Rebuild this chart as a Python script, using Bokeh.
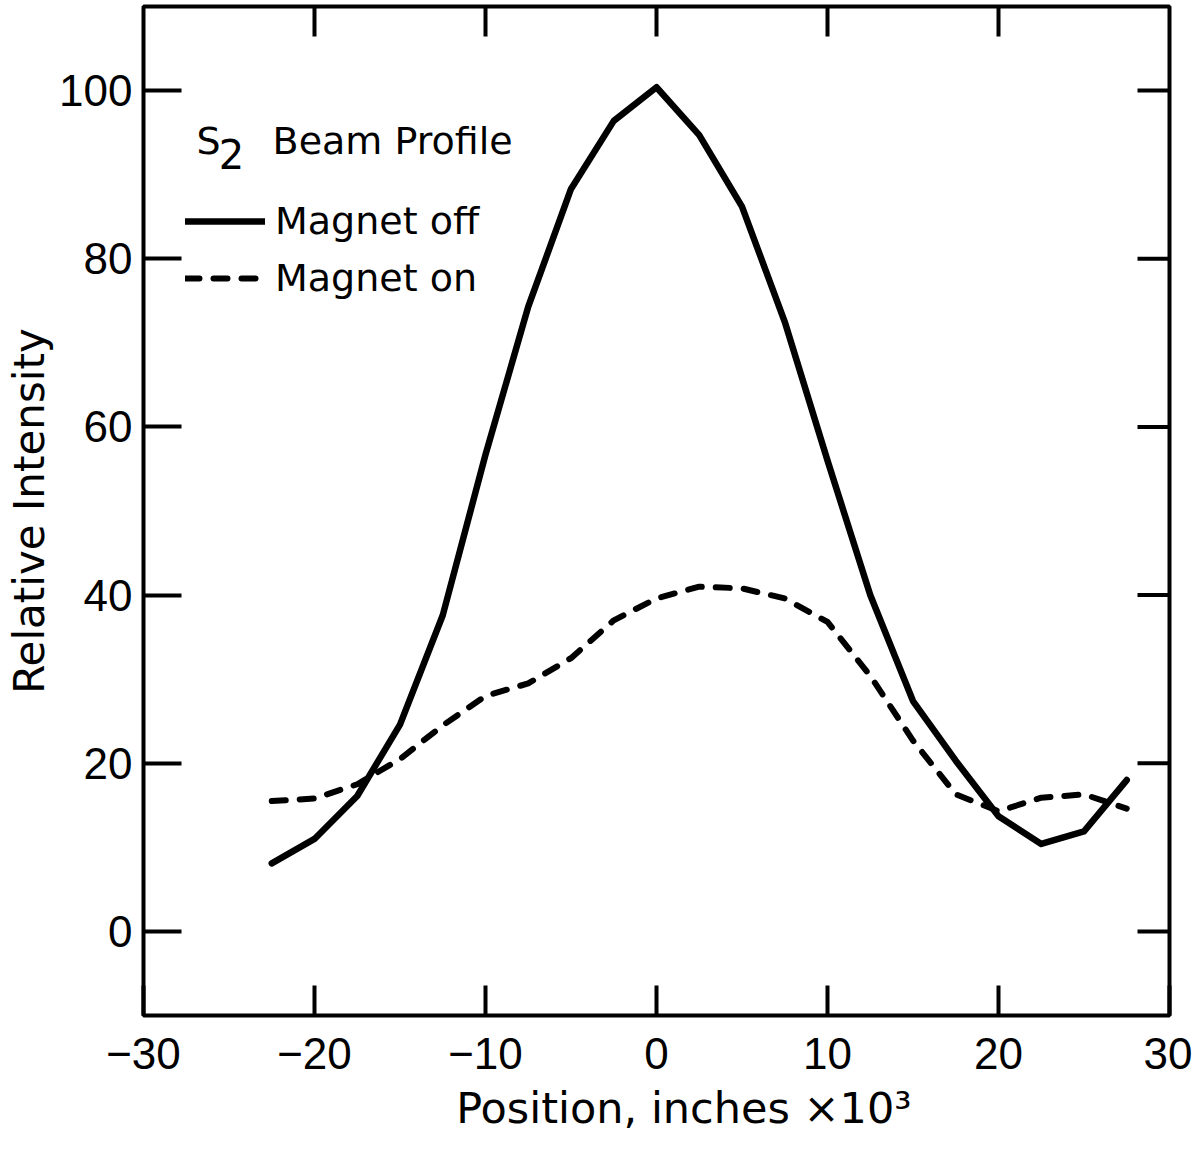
import math
from bokeh.plotting import figure
from bokeh.models import Range1d, FixedTicker, Legend, LegendItem, Label, ColumnDataSource
from bokeh.embed import file_html
from bokeh.resources import INLINE

# ---- data ----
positions = [-22.5, -20, -17.5, -15, -12.5, -10, -7.5, -5, -2.5, 0,
             2.5, 5, 7.5, 10, 12.5, 15, 17.5, 20, 22.5, 25, 27.5]
magnet_off = [8.1, 11.0, 16.1, 24.6, 37.6, 56.7, 74.3, 88.3, 96.4, 100.4,
              94.7, 86.2, 72.5, 56.0, 40.0, 27.4, 20.3, 13.7, 10.4, 11.9, 18.0]
magnet_on = [15.5, 15.8, 17.5, 20.5, 24.5, 28.0, 29.5, 32.5, 37.0, 39.6,
             41.0, 40.8, 39.6, 36.8, 30.4, 22.7, 16.3, 14.3, 15.9, 16.3, 14.6]

x_ticks = [-30, -20, -10, 0, 10, 20, 30]
x_tick_labels = ["\u221230", "\u221220", "\u221210", "0", "10", "20", "30"]
y_ticks = [0, 20, 40, 60, 80, 100]
y_tick_labels = ["0", "20", "40", "60", "80", "100"]

TEXT_FONT = "DejaVu Sans"
NUM_FONT = "Liberation Sans"

X_MIN, X_MAX = -30, 30
Y_MIN, Y_MAX = -10, 110

src = ColumnDataSource(dict(x=positions, off=magnet_off, on=magnet_on))

p = figure(width=1192, height=1142,
           x_range=Range1d(X_MIN, X_MAX), y_range=Range1d(Y_MIN, Y_MAX),
           output_backend="svg", toolbar_location=None,
           min_border_left=143, min_border_right=23,
           min_border_top=6, min_border_bottom=127)

p.background_fill_color = "white"
p.border_fill_color = "white"
p.outline_line_color = "black"
p.outline_line_width = 4
p.xgrid.visible = False
p.ygrid.visible = False

r_off = p.line("x", "off", source=src, line_color="black", line_width=6.5,
               line_join="round", line_cap="round")
r_on = p.line("x", "on", source=src, line_color="black", line_width=6,
              line_dash="14 14", line_join="round", line_cap="round")


def style_axis(ax, ticks, labels, tick_in):
    ax.ticker = FixedTicker(ticks=ticks)
    ax.major_tick_in = tick_in
    ax.major_tick_out = 0
    ax.minor_tick_in = 0
    ax.minor_tick_out = 0
    ax.major_tick_line_color = "black"
    ax.major_tick_line_width = 4
    ax.axis_line_color = None
    ax.major_label_overrides = {t: l for t, l in zip(ticks, labels)}
    ax.major_label_text_font = NUM_FONT
    ax.major_label_text_font_size = "44px"
    ax.major_label_text_color = "black"


xb = p.xaxis[0]
style_axis(xb, x_ticks, x_tick_labels, 30)
xb.major_label_standoff = 22
xb.axis_label = "\u00a0\u00a0\u00a0\u00a0Position, inches \u00d710\u00b3"
xb.axis_label_text_font = TEXT_FONT
xb.axis_label_text_font_size = "43px"
xb.axis_label_text_font_style = "normal"
xb.axis_label_text_color = "black"
xb.axis_label_standoff = 11

yl = p.yaxis[0]
style_axis(yl, y_ticks, y_tick_labels, 38)
yl.major_label_standoff = 11
yl.axis_label = "Relative Intensity"
yl.axis_label_text_font = TEXT_FONT
yl.axis_label_text_font_size = "42px"
yl.axis_label_text_font_style = "normal"
yl.axis_label_text_color = "black"
yl.axis_label_standoff = 2

# inward ticks on the top and right edges of the frame
top_ticks = [t for t in x_ticks if X_MIN < t < X_MAX]
p.ray(x=top_ticks, y=[Y_MAX] * len(top_ticks), length=30, length_units="screen",
      angle=-math.pi / 2, line_color="black", line_width=4)
p.ray(x=[X_MAX] * len(y_ticks), y=y_ticks, length=32, length_units="screen",
      angle=math.pi, line_color="black", line_width=4)

legend = Legend(items=[LegendItem(label="Magnet off", renderers=[r_off]),
                       LegendItem(label="Magnet on", renderers=[r_on])],
                location=(42, 712), glyph_width=80, glyph_height=50,
                label_height=50, spacing=7, padding=0, margin=0,
                label_standoff=10, label_text_font=TEXT_FONT,
                label_text_font_size="38px", label_text_color="black",
                background_fill_alpha=0, border_line_alpha=0)
p.add_layout(legend)

for txt, x, y, fs in [("S", -26.9, 94.0, "38px"), ("2", -25.6, 92.5, "40px"),
                      ("Beam Profile", -22.45, 94.0, "38px")]:
    p.add_layout(Label(x=x, y=y, text=txt, text_font=TEXT_FONT,
                       text_font_size=fs, text_color="black",
                       text_align="left", text_baseline="alphabetic"))

open("out.html", "w").write(file_html(p, INLINE))
